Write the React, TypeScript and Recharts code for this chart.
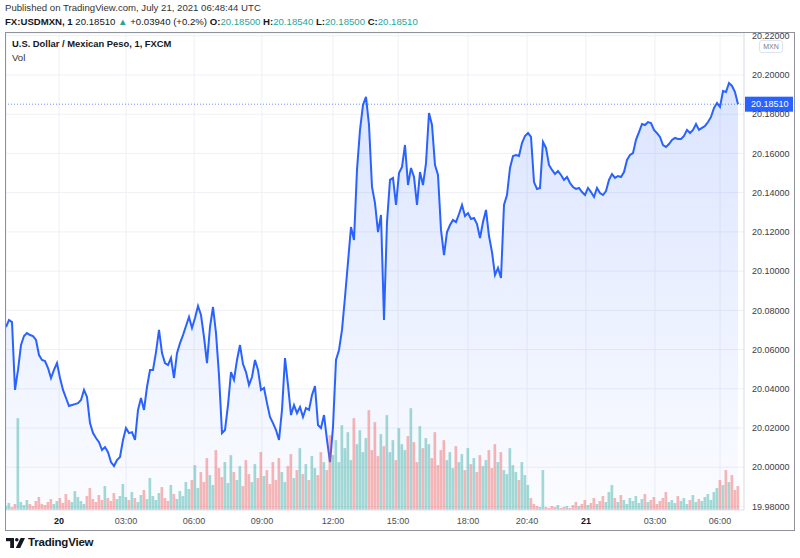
import React from 'react'
import {
  Area,
  Bar,
  CartesianGrid,
  Cell,
  ComposedChart,
  ReferenceLine,
  XAxis,
  YAxis,
} from 'recharts'

// USD/MXN 1-minute closes, sampled every 8 bars (Jul 19 21:40 → Jul 21 06:48 UTC)
const PRICE = [
  20.0715, 20.0751, 20.074, 20.0394, 20.0496, 20.0623, 20.0669, 20.0684, 20.0674, 20.0669,
  20.0649, 20.0572, 20.0547, 20.0541, 20.0506, 20.0455, 20.0496, 20.0531, 20.0455, 20.0394,
  20.0353, 20.0312, 20.0317, 20.0322, 20.0327, 20.0343, 20.0394, 20.0358, 20.0225, 20.0174,
  20.0149, 20.0128, 20.0088, 20.0103, 20.0077, 20.0026, 20.0006, 20.0037, 20.0052, 20.0139,
  20.02, 20.0174, 20.0179, 20.0139, 20.0292, 20.0353, 20.0292, 20.0409, 20.0496, 20.0496,
  20.0587, 20.07, 20.0582, 20.0531, 20.0521, 20.0557, 20.0455, 20.0582, 20.0633, 20.0674,
  20.072, 20.0766, 20.071, 20.0761, 20.0822, 20.0776, 20.0664, 20.0531, 20.0715, 20.0817,
  20.0684, 20.047, 20.0174, 20.019, 20.0317, 20.0485, 20.0445, 20.0547, 20.0623, 20.0526,
  20.0485, 20.0419, 20.046, 20.0547, 20.0496, 20.0394, 20.0404, 20.0327, 20.0256, 20.0225,
  20.019, 20.0139, 20.0292, 20.0557, 20.0419, 20.0266, 20.0317, 20.0276, 20.0307, 20.0256,
  20.0302, 20.0292, 20.0368, 20.0414, 20.0215, 20.02, 20.0266, 20.0139, 20.0026, 20.0205,
  20.0547, 20.0598, 20.07, 20.0868, 20.1046, 20.1225, 20.1159, 20.1516, 20.172, 20.1847,
  20.1888, 20.1745, 20.1429, 20.1347, 20.1199, 20.1286, 20.0751, 20.125, 20.1465, 20.1475,
  20.1337, 20.15, 20.1531, 20.1643, 20.1439, 20.1526, 20.148, 20.1337, 20.1505, 20.1439,
  20.1551, 20.1806, 20.1745, 20.1541, 20.149, 20.121, 20.1082, 20.1199, 20.1235, 20.1261,
  20.125, 20.1291, 20.1337, 20.1281, 20.1296, 20.1266, 20.1271, 20.124, 20.1169, 20.125,
  20.1312, 20.1179, 20.1097, 20.098, 20.1016, 20.0965, 20.1337, 20.1388, 20.1526, 20.1587,
  20.1592, 20.1587, 20.1653, 20.1689, 20.1704, 20.1684, 20.1454, 20.1419, 20.1424, 20.1658,
  20.1628, 20.1541, 20.1516, 20.1495, 20.151, 20.149, 20.1465, 20.148, 20.1449, 20.1429,
  20.1419, 20.1424, 20.1403, 20.1388, 20.1424, 20.1403, 20.1378, 20.1424, 20.1398, 20.1388,
  20.1408, 20.1465, 20.1495, 20.1475, 20.1485, 20.148, 20.1505, 20.1567, 20.1592, 20.1602,
  20.1669, 20.1709, 20.175, 20.1745, 20.176, 20.1755, 20.172, 20.1704, 20.1684, 20.1643,
  20.1633, 20.1648, 20.1669, 20.1679, 20.1674, 20.1674, 20.1689, 20.172, 20.1704, 20.172,
  20.175, 20.172, 20.173, 20.174, 20.176, 20.1786, 20.1832, 20.1857, 20.1837, 20.1918,
  20.1913, 20.1959, 20.1944, 20.1913, 20.1851,
]

// tick volume per sample
const VOLUME = [
  4, 7, 3, 6, 92, 8, 5, 10, 6, 4, 9, 13, 6, 5, 8, 11, 6, 9,
  12, 7, 16, 10, 8, 19, 13, 9, 6, 14, 22, 11, 8, 15, 10, 24, 12, 9, 17, 11, 14, 26,
  13, 10, 18, 12, 8, 15, 20, 11, 32, 14, 10, 17, 23, 12, 9, 25, 16, 11, 19, 14, 28, 21,
  30, 45, 22, 38, 28, 52, 35, 25, 60, 42, 33, 48, 27, 55, 38, 30, 44, 24, 50, 36, 28, 46, 32, 58,
  34, 40, 26, 48, 30, 52, 38, 28, 44, 56, 32, 40, 62, 36, 46, 30, 54, 42, 35, 58, 48, 40, 75,
  55, 70, 48, 85, 62, 78, 50, 92, 66, 80, 58, 72, 100, 60, 88, 54, 76, 64, 95, 58,
  70, 50, 82, 66, 60, 74, 102, 68, 48, 84, 62, 72,
  66, 52, 78, 45, 60, 70, 50, 58, 42, 64, 48, 56, 40, 62, 46, 52, 38, 55, 44, 50,
  60, 42, 66, 48, 58, 40, 36, 62, 45, 38, 30, 48,
  35, 25, 12, 6, 4, 3, 40, 3, 2, 4, 3, 5, 2, 3, 4, 2, 5, 8, 4, 6, 10, 5, 7, 12, 6, 9, 14, 8,
  18, 25, 12, 8, 15, 10, 6, 12, 9, 14, 7, 11, 16, 8, 10, 13, 6, 9, 12, 18,
  8, 10, 7, 14, 9, 12, 6, 10, 15, 8, 11, 9, 13, 16, 10, 18, 22, 30, 25, 40, 28, 35, 20, 24,
]

const TIME_TICKS = [17.7, 40, 62.7, 85.3, 109, 130.7, 154, 173.7, 193.3, 216.3, 238]
const TIME_LABELS = ['20', '03:00', '06:00', '09:00', '12:00', '15:00', '18:00', '20:40', '21', '03:00', '06:00']
const PRICE_TICKS = [19.98, 20.0, 20.02, 20.04, 20.06, 20.08, 20.1, 20.12, 20.14, 20.16, 20.18, 20.2, 20.22]
const LAST_PRICE = 20.1851

const UP = '#26a69a'
const DOWN = '#ef5350'
const LINE = '#2962ff'
const INK = '#131722'
const FONT = '"Liberation Sans", Arial, sans-serif'

const rows = PRICE.map((price, i) => ({
  i,
  price,
  vol: VOLUME[i],
  up: i === 0 || price >= PRICE[i - 1],
}))

function TimeTick({ x, y, payload }: { x?: number; y?: number; payload?: { value: number } }) {
  const k = TIME_TICKS.indexOf(payload?.value ?? -1)
  const label = TIME_LABELS[k] ?? ''
  const isDay = label.length <= 2
  return (
    <text
      x={x}
      y={y}
      dy="0.71em"
      textAnchor="middle"
      fontSize={9}
      fontFamily={FONT}
      fill={isDay ? INK : '#4a4d57'}
      fontWeight={isDay ? 700 : 400}
    >
      {label}
    </text>
  )
}

function LastPriceTag({ viewBox }: { viewBox?: { x: number; y: number; width: number } }) {
  if (!viewBox) return null
  const left = viewBox.x + viewBox.width + 1
  return (
    <g>
      <rect x={left} y={viewBox.y - 7.5} width={48} height={15} fill={LINE} />
      <text
        x={left + 6}
        y={viewBox.y}
        dy="0.35em"
        fontSize={9}
        fontFamily={FONT}
        fill="#ffffff"
      >
        {LAST_PRICE.toFixed(5)}
      </text>
    </g>
  )
}

function Logo() {
  return (
    <svg width={20} height={11} viewBox="0 0 20 11" style={{ position: 'absolute', left: 6, top: 538 }}>
      <rect x={0} y={0} width={8} height={3.2} fill={INK} />
      <rect x={4.2} y={0} width={3.8} height={10} fill={INK} />
      <circle cx={10.8} cy={1.8} r={1.8} fill={INK} />
      <polygon points="14.6,0 19,0 14.2,10 9.8,10" fill={INK} />
    </svg>
  )
}

export default function App() {
  const teal = { color: UP }
  const b = { fontWeight: 700 }
  return (
    <div
      style={{
        position: 'absolute',
        left: 0,
        top: 0,
        width: 800,
        height: 558,
        background: '#ffffff',
        fontFamily: FONT,
        color: INK,
        overflow: 'hidden',
      }}
    >
      <div style={{ position: 'absolute', left: 5, top: 2, fontSize: 9.6, color: '#333' }}>
        Published on TradingView.com, July 21, 2021 06:48:44 UTC
      </div>
      <div style={{ position: 'absolute', left: 5, top: 16, fontSize: 9.6, whiteSpace: 'nowrap' }}>
        <span style={b}>FX:USDMXN, 1</span> 20.18510 <span style={teal}>▲</span> +0.03940 (+0.2%){' '}
        <span style={b}>O:</span>
        <span style={teal}>20.18500</span> <span style={b}>H:</span>
        <span style={teal}>20.18540</span> <span style={b}>L:</span>
        <span style={teal}>20.18500</span> <span style={b}>C:</span>
        <span style={teal}>20.18510</span>
      </div>

      <div
        style={{
          position: 'absolute',
          left: 5,
          top: 32,
          width: 790,
          height: 499,
          border: '1px solid #8f929b',
          boxSizing: 'border-box',
        }}
      />

      <div style={{ position: 'absolute', left: 6, top: 33 }}>
        <ComposedChart
          width={788}
          height={497}
          data={rows}
          margin={{ top: 0, right: 0, bottom: 0, left: 0 }}
        >
          <defs>
            <linearGradient id="areaFill" x1="0" y1="0" x2="0" y2="1">
              <stop offset="0%" stopColor={LINE} stopOpacity={0.28} />
              <stop offset="100%" stopColor={LINE} stopOpacity={0.03} />
            </linearGradient>
          </defs>
          <CartesianGrid stroke="#eef0f5" yAxisId="price" />
          <XAxis
            dataKey="i"
            type="number"
            domain={[0, 246]}
            ticks={TIME_TICKS}
            allowDataOverflow
            height={20}
            tickLine={false}
            axisLine={{ stroke: '#e6e8ee' }}
            tick={<TimeTick />}
            interval={0}
          />
          <YAxis
            yAxisId="price"
            orientation="right"
            width={50}
            domain={[19.9782, 20.2214]}
            ticks={PRICE_TICKS}
            allowDataOverflow
            tickLine={false}
            axisLine={{ stroke: '#dfe1e7' }}
            tick={{ fontSize: 9, fill: '#3a3d46', fontFamily: FONT }}
            tickFormatter={(v: number) => v.toFixed(5)}
            interval={0}
          />
          <YAxis yAxisId="vol" hide domain={[0, 478]} />
          <Bar dataKey="vol" yAxisId="vol" barSize={3} isAnimationActive={false}>
            {rows.map((r) => (
              <Cell key={r.i} fill={r.up ? UP : DOWN} fillOpacity={0.42} />
            ))}
          </Bar>
          <Area
            dataKey="price"
            yAxisId="price"
            type="linear"
            stroke={LINE}
            strokeWidth={2}
            fill="url(#areaFill)"
            dot={false}
            activeDot={false}
            isAnimationActive={false}
          />
          <ReferenceLine
            yAxisId="price"
            y={LAST_PRICE}
            stroke={LINE}
            strokeOpacity={0.7}
            strokeDasharray="1 2"
            label={<LastPriceTag />}
          />
        </ComposedChart>
      </div>

      <div style={{ position: 'absolute', left: 12, top: 38, fontSize: 9.4, fontWeight: 700 }}>
        U.S. Dollar / Mexican Peso, 1, FXCM
      </div>
      <div style={{ position: 'absolute', left: 12, top: 52, fontSize: 9.6, color: '#333' }}>Vol</div>

      <div
        style={{
          position: 'absolute',
          left: 759,
          top: 40,
          width: 22,
          height: 11,
          border: '1px solid #e0e3eb',
          borderRadius: 3,
          background: '#ffffff',
          fontSize: 7,
          lineHeight: '11px',
          textAlign: 'center',
          color: '#787b86',
        }}
      >
        MXN
      </div>

      <Logo />
      <div style={{ position: 'absolute', left: 28, top: 536, fontSize: 11.5, fontWeight: 700, letterSpacing: -0.2 }}>
        TradingView
      </div>
    </div>
  )
}
